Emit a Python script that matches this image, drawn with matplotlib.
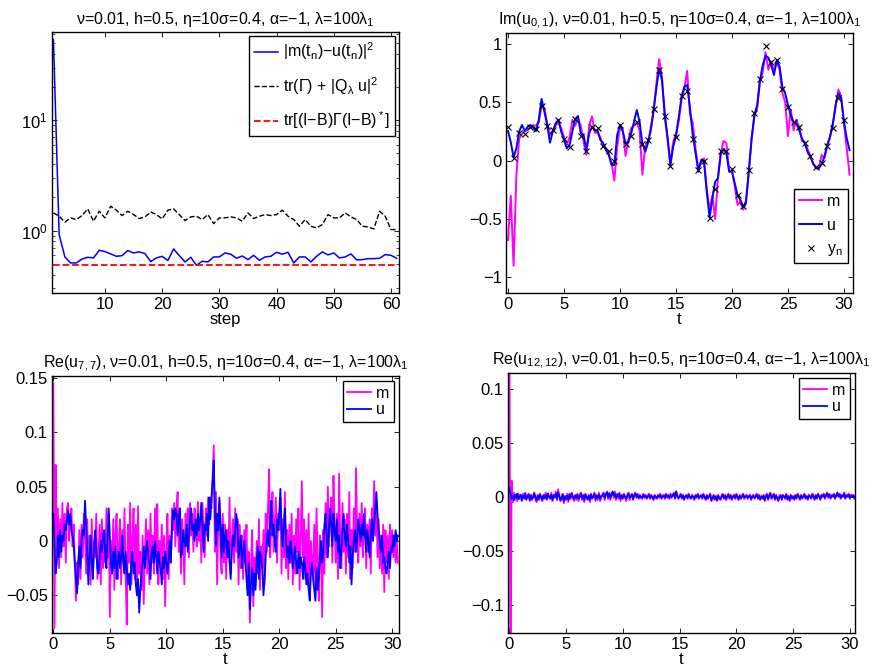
import matplotlib
matplotlib.use('Agg')
import matplotlib.pyplot as plt
import numpy as np

plt.rcParams['font.family'] = ['Liberation Sans', 'DejaVu Sans']
plt.rcParams['font.size'] = 12
plt.rcParams['mathtext.fontset'] = 'custom'
plt.rcParams['mathtext.rm'] = 'Liberation Sans'
plt.rcParams['mathtext.it'] = 'Liberation Sans'
plt.rcParams['mathtext.bf'] = 'Liberation Sans:bold'

#########################################################################
# panel 1 : errors vs step

steps = np.arange(1, 62)
err = [53.8, 0.920, 0.577, 0.509, 0.509, 0.553, 0.573, 0.565, 0.663, 0.645,
       0.615, 0.585, 0.593, 0.659, 0.627, 0.641, 0.619, 0.524, 0.565, 0.585,
       0.535, 0.682, 0.593, 0.520, 0.573, 0.485, 0.527, 0.520, 0.577, 0.577,
       0.627, 0.611, 0.561, 0.589, 0.546, 0.597, 0.538, 0.577, 0.585, 0.636,
       0.611, 0.636, 0.509, 0.577, 0.577, 0.520, 0.585, 0.641, 0.602, 0.627,
       0.565, 0.577, 0.615, 0.542, 0.546, 0.557, 0.557, 0.561, 0.606, 0.597,
       0.561]
trace = [1.446, 1.349, 1.190, 1.303, 1.258, 1.368, 1.572, 1.215, 1.497, 1.303,
         1.662, 1.529, 1.368, 1.497, 1.396, 1.285, 1.330, 1.476, 1.396, 1.276,
         1.529, 1.572, 1.396, 1.232, 1.330, 1.349, 1.258, 1.396, 1.157, 1.303,
         1.303, 1.330, 1.303, 1.215, 1.446, 1.285, 1.349, 1.396, 1.368, 1.396,
         1.529, 1.349, 1.258, 1.095, 1.258, 1.095, 1.057, 1.133, 1.396, 1.303,
         1.303, 1.446, 1.330, 1.258, 1.095, 1.080, 1.035, 1.497, 1.349, 1.021,
         1.021]
bound = 0.485

#########################################################################
# panel 2 : Im(u_{0,1})

t01 = np.arange(0, 30.51, 0.25)
u01 = [0.254, 0.16, 0.026, 0.106, 0.25, 0.306, 0.254, 0.29, 0.306, 0.283,
       0.254, 0.35, 0.53, 0.42, 0.306, 0.154, 0.25, 0.32, 0.35, 0.25,
       0.177, 0.106, 0.134, 0.25, 0.357, 0.383, 0.234, 0.22, 0.09, 0.234,
       0.29, 0.26, 0.26, 0.177, 0.15, 0.09, 0.05, -0.037, -0.037, 0.22,
       0.306, 0.25, 0.15, 0.163, 0.234, 0.334, 0.434, 0.334, 0.15, 0.077,
       0.15, 0.277, 0.434, 0.62, 0.79, 0.69, 0.406, 0.19, -0.037, 0.12,
       0.206, 0.377, 0.55, 0.634, 0.65, 0.45, 0.22, 0.063, -0.094, 0.006,
       -0.009, -0.266, -0.489, -0.323, -0.18, -0.151, 0.063, 0.097, 0.063, -0.094,
       -0.094, -0.194, -0.294, -0.337, -0.394, -0.351, -0.094, 0.19, 0.39, 0.477,
       0.69, 0.82, 0.9, 0.883, 0.82, 0.734, 0.863, 0.806, 0.634, 0.577,
       0.477, 0.39, 0.334, 0.32, 0.263, 0.19, 0.149, 0.077, 0.034, -0.023,
       -0.066, -0.066, -0.031, 0.034, 0.134, 0.206, 0.306, 0.477, 0.577, 0.534,
       0.334, 0.19, 0.09]
m01 = [-0.68, -0.30, -0.90, -0.13, 0.19, 0.23, 0.25, 0.27, 0.28, 0.30,
       0.30, 0.33, 0.47, 0.45, 0.32, 0.22, 0.26, 0.30, 0.33, 0.28,
       0.20, 0.14, 0.20, 0.35, 0.30, 0.36, 0.30, 0.16, 0.05, 0.30,
       0.38, 0.24, 0.24, 0.20, 0.12, 0.11, 0.06, -0.02, -0.17, 0.12,
       0.28, 0.27, 0.04, 0.18, 0.28, 0.30, 0.33, 0.26, -0.12, 0.12,
       0.17, 0.25, 0.42, 0.66, 0.87, 0.72, 0.36, 0.20, -0.03, 0.16,
       0.23, 0.34, 0.52, 0.62, 0.77, 0.40, 0.32, 0.10, -0.07, -0.01,
       0.02, -0.25, -0.42, -0.30, -0.50, -0.14, 0.06, 0.17, 0.15, -0.09,
       -0.08, -0.22, -0.38, -0.35, -0.42, -0.36, -0.10, 0.18, 0.38, 0.45,
       0.68, 0.76, 0.93, 0.78, 0.85, 0.76, 0.85, 0.78, 0.58, 0.50,
       0.21, 0.44, 0.26, 0.35, 0.29, 0.17, 0.16, 0.10, 0.04, -0.03,
       -0.05, -0.07, 0.05, 0.02, 0.12, 0.20, 0.32, 0.46, 0.61, 0.55,
       0.32, 0.10, -0.12]
t_obs = np.arange(0, 30.01, 0.5)
y_obs = [0.29, 0.026, 0.237, 0.23, 0.29, 0.27, 0.47, 0.30, 0.26, 0.35,
         0.19, 0.12, 0.36, 0.21, 0.086, 0.29, 0.28, 0.125, 0.083, 0.0,
         0.31, 0.14, 0.21, 0.33, 0.14, 0.18, 0.44, 0.78, 0.385, -0.046,
         0.2, 0.557, 0.6, 0.19, -0.08, 0.0, -0.494, -0.243, 0.086, 0.086,
         -0.074, -0.29, -0.389, -0.08, 0.406, 0.70, 0.986, 0.843, 0.863, 0.611,
         0.463, 0.334, 0.29, 0.154, 0.04, -0.057, -0.023, 0.129, 0.277, 0.54,
         0.349]

#########################################################################
# panel 3 : Re(u_{7,7}), values in units of 1e-3

t77 = np.arange(0, 30.51, 0.1)
u77_milli = [
    25, -5, -30, -20, 5, -15, 10, -10, 5, 0,
    15, 10, 20, 28, 15, 25, 10, 5, -5, -20,
    -35, -48, -20, -5, -25, 0, 10, 5, 37, 15,
    -10, -40, -15, 5, -20, -35, -5, 10, -10, -25,
    -30, -15, 0, -10, 5, 10, -15, -25, 5, 30,
    5, -20, -30, -10, -25, -5, -35, -20, -10, -25,
    -15, 5, -20, -30, -10, -25, -40, -30, -45, -20,
    -10, -30, -20, -40, -50, -35, -66, -45, -30, -20,
    -5, -25, -10, 0, -15, -20, -35, -10, -5, -20,
    0, -15, -30, -10, -20, -25, -40, -15, -25, -10,
    -20, -30, -15, 0, -20, 10, 28, 20, 30, 25,
    5, 20, 30, -15, -10, 10, 0, -5, 15, -10,
    5, 20, 30, 10, 15, 0, 20, 5, 25, 10,
    20, 35, 15, -10, 15, 10, 25, 0, 40, 20,
    40, 55, 74, 30, -5, 25, 10, 40, 15, -15,
    15, -10, 5, 10, -15, 0, -20, -35, -10, 5,
    -5, 10, 25, 15, -15, -5, 5, -25, -10, 0,
    -20, -35, -50, -20, -63, -40, -25, -50, -30, -45,
    -20, -5, -35, -10, -15, -25, -50, -35, -15, 0,
    10, -5, 20, 37, 5, 15, 0, -10, 20, 10,
    25, 48, 10, -5, 15, 30, 0, -15, -5, -20,
    0, -10, -25, -15, -5, -20, -30, -10, -25, -15,
    -20, -35, -15, -25, -40, -30, -45, -55, -30, -20,
    -35, -45, -55, -25, -45, -35, -15, 0, -20, -10,
    15, 25, 5, -15, 10, 30, 15, -5, 25, 10,
    0, 20, -10, 5, -25, -10, 10, 25, 5, -5,
    15, 0, -20, -5, -40, -15, 0, 10, -10, 5,
    20, 10, 0, 15, 5, 25, 5, -10, 10, 0,
    -15, 5, 20, 0, 15, 30, 45, 25, 10, 0,
    -10, 5, -20, -15, -25, -30, -20, -10, -25, -5,
    -10, 5, -5, 10, 0, 5]
m77_milli = [
    145, -80, 70, -10, 30, -25, 20, -15, 35, -5,
    25, -20, 30, 35, 0, 20, 30, -5, 15, -20,
    -55, -20, -40, 10, -35, 15, -15, 25, 5, -30,
    20, -25, 5, -40, 20, -30, 0, -15, 25, -35,
    -10, 15, -40, 20, -25, 5, -20, 30, -15, 25,
    -70, 0, -30, 20, -45, 10, 25, -35, -5, 20,
    -40, 10, -20, 30, -30, -77, 15, -20, 35, -40,
    0, 30, -35, 15, -50, 32, -30, -10, -45, 5,
    -58, -15, 20, -30, 10, -40, 25, -20, 5, -30,
    30, -10, 34, -40, 0, -25, 15, -35, 5, -60,
    -10, 25, -35, 5, -20, 30, 10, 35, -5, 28,
    45, -10, 15, -30, 20, 0, -40, 25, 10, 30,
    -15, 35, 5, 25, -10, 30, 15, -5, 36, 0,
    20, -20, 35, 10, -15, 30, 5, 40, 15, 40,
    30, 60, 88, -10, 45, -40, 20, 35, -15, -30,
    25, -20, 15, -35, 10, -15, 40, -30, 0, 20,
    -20, 30, -10, 20, -40, 15, -25, 5, -35, 10,
    -20, 15, -45, -10, -75, -20, 10, -60, -15, -40,
    0, -30, 20, -45, -5, -25, 10, -40, 25, -10,
    30, 66, -15, 20, 45, -10, 15, 40, -20, 25,
    10, 40, -30, 20, -15, 45, -25, 10, -35, 15,
    -20, 25, -40, 5, -30, 20, -10, 30, -45, 0,
    55, -15, 20, -35, 10, -40, 25, -50, 0, -20,
    -30, 15, -45, 30, -20, -55, 5, -10, -70, 10,
    -30, 35, -15, 50, -5, 20, 40, -20, 60, 15,
    -20, 25, -35, 62, 0, -25, 35, -10, 20, -30,
    25, -15, 45, -35, 10, -25, 30, -10, 67, 5,
    -20, 25, -5, 35, -15, 10, 30, -25, 15, -10,
    20, -30, 30, 10, 55, 5, 35, -15, 20, -25,
    5, -30, 15, -47, 10, -20, 5, -35, 15, -10,
    10, -15, 5, -20, 0, -20]

#########################################################################
# panel 4 : Re(u_{12,12}), values in units of 1e-3

t1212 = np.arange(0, 30.51, 0.1)
u1212_milli = [
    8, 3, -2, 1, -3, 2, -1, 3, -2, 0,
    2, -3, 1, -1, 3, -2, 0, 2, -3, 1,
    -2, 0, 3, -1, -3, 1, -2, 2, 0, -3,
    1, -1, 2, -2, 3, 0, -1, 2, -3, 1,
    0, 3, -2, 4, 1, -3, -1, 2, -4, 0,
    -2, 1, -3, 2, -1, 3, 0, -2, 1, -1,
    2, -2, 0, 3, -1, 1, -3, 2, 0, -2,
    1, -3, 2, -1, 0, 3, -2, 1, -1, 2,
    -2, 0, 1, 3, -1, 2, 4, 0, 3, -1,
    2, 5, 1, 3, -1, 2, 0, 3, -2, 1,
    -1, 2, 0, -2, 1, 3, -1, 0, 2, -2,
    1, 3, 0, 2, -1, 1, 0, -1, 2, 0,
    1, -1, 0, 2, -1, 1, 0, -2, 1, 0,
    -1, 1, 0, 2, -1, 0, 1, -1, 2, 0,
    1, -1, 2, 0, 1, 3, -1, 5, 1, -1,
    0, 2, -1, 1, -2, 0, 1, -1, 2, 0,
    -1, 1, 0, -2, 1, 0, 2, -1, 0, 1,
    -1, 2, 0, -2, 1, -1, 0, 2, -3, -1,
    1, -2, 0, -3, 1, -1, -2, 0, 2, -1,
    1, -2, 0, 2, -1, 1, -2, 0, 1, -1,
    2, 0, -2, 1, -1, 0, 2, -1, 0, 1,
    -1, 0, 1, -2, 0, 1, -1, 0, 2, -1,
    1, -2, 0, -1, 1, -3, 0, 2, -2, 1,
    3, -1, 0, 2, -2, 1, -1, -3, 0, 1,
    -2, 1, 0, -1, 2, -2, 0, -3, 1, -1,
    0, -2, 1, -1, 2, 0, -2, 1, -1, 0,
    2, -1, 0, -2, 1, 0, -1, 2, 0, -2,
    1, -1, 2, 0, -2, 1, 0, 2, -1, 1,
    3, 0, 2, -1, 1, 0, 2, -1, 1, 4,
    0, 2, -1, 1, 0, 3, -1, 1, 0, 2,
    -1, 1, 0, 1, -1, 0]
m1212_milli = [
    200, -200, 15, -5, 4, -3, 2, -4, 3, -2,
    1, -4, 3, -2, 4, -3, 1, 3, -4, 2,
    -3, 1, 4, -2, -5, 2, -3, 3, -1, -4,
    2, -2, 4, -3, 3, -1, -2, 4, -4, 2,
    -1, 5, -3, 7, 0, -4, -2, 3, -6, 1,
    -3, 3, -5, 3, -2, 4, -1, -4, 2, -3,
    3, -4, 1, 4, -3, 2, -5, 3, -1, -3,
    2, -5, 3, -2, 1, 4, -4, 2, -3, 4,
    -4, 1, 2, 4, -3, 3, 5, -2, 4, -3,
    3, 4, -1, 5, -3, 3, -2, 4, -4, 2,
    -2, 3, -1, -4, 2, 4, -3, 1, 3, -3,
    2, 4, -1, 3, -2, 2, -1, -2, 3, -1,
    2, -2, 1, 3, -2, 2, -1, -3, 2, -1,
    -2, 2, -1, 3, -2, 1, 2, -2, 3, -1,
    2, -2, 3, -1, 2, 4, -2, 5, 0, -2,
    1, 3, -2, 2, -3, 1, 2, -2, 3, -1,
    -2, 2, -1, -3, 2, -1, 3, -2, 1, 2,
    -2, 3, -1, -3, 2, -2, 1, 3, -4, -2,
    2, -3, 1, -4, 2, -2, -3, 1, 3, -2,
    2, -3, 1, 3, -2, 2, -3, 1, 2, -2,
    3, -1, -3, 2, -2, 1, 3, -2, 1, 2,
    -2, 1, 2, -3, 1, 2, -2, 1, 3, -2,
    2, -3, 1, -2, 2, -4, 1, 3, -3, 2,
    4, -2, 1, 3, -3, 2, -2, -4, 1, 2,
    -3, 2, 1, -2, 3, -3, 1, -4, 2, -2,
    1, -3, 2, -2, 3, 1, -3, 2, -2, 1,
    3, -2, 1, -3, 2, 1, -2, 3, 1, -3,
    2, -2, 3, 1, -3, 2, 1, 3, -2, 2,
    4, -1, 3, -2, 2, 1, 3, -2, 2, 3,
    1, 3, -2, 2, 1, 4, -2, 2, 1, 3,
    -2, 2, 1, 2, -2, 1]

#########################################################################

MAG = (1, 0, 1)
BLUE = (0, 0, 1)
TITLE_FS = 11.5
params = r'$\nu$=0.01, h=0.5, $\eta$=10$\sigma$=0.4, $\alpha$=$-$1, $\lambda$=100$\lambda_1$'

def matlab_axes(ax):
    ax.tick_params(direction='in', top=True, right=True, length=3.5, width=0.6,
                   labelsize=12, pad=3)
    ax.tick_params(which='minor', direction='in', top=True, right=True,
                   length=2, width=0.5)
    for s in ax.spines.values():
        s.set_linewidth(1.0)

def legend(ax, **kw):
    opts = dict(loc='upper right', fancybox=False, edgecolor='black',
                framealpha=1, borderaxespad=0.3, fontsize=11.5,
                handlelength=1.5, handletextpad=0.3, borderpad=0.3)
    opts.update(kw)
    lg = ax.legend(**opts)
    lg.get_frame().set_linewidth(1.0)
    return lg

fig = plt.figure(figsize=(8.74, 6.70), dpi=100)

# panel 1
ax1 = fig.add_axes([0.0595, 0.5627, 0.397, 0.3896])
ax1.semilogy(steps, err, color=BLUE, lw=1.1, label=r'|m(t$_n$)$-$u(t$_n$)|$^2$')
ax1.semilogy(steps, trace, 'k--', lw=1.0, label=r'tr($\Gamma$) + |Q$_\lambda$ u|$^2$')
ax1.semilogy(steps, [bound] * len(steps), '--', color='red', lw=1.3,
             label=r'tr[(I$-$B)$\Gamma$(I$-$B)$^*$]')
ax1.set_xlim(0.75, 61.4)
ax1.set_ylim(0.272, 63)
ax1.set_xticks([10, 20, 30, 40, 50, 60])
ax1.set_xlabel('step', labelpad=0)
ax1.set_title(params, fontsize=TITLE_FS, pad=6)
matlab_axes(ax1)
legend(ax1, labelspacing=0.8, borderaxespad=0.25)

# panel 2
ax2 = fig.add_axes([0.5789, 0.5627, 0.397, 0.388])
ax2.plot(t01, m01, color=MAG, lw=1.4, label='m')
ax2.plot(t01, u01, color=BLUE, lw=1.4, label='u')
ax2.plot(t_obs, y_obs, 'kx', ms=5, mew=0.8, label=r'y$_n$')
ax2.set_xlim(-0.18, 30.8)
ax2.set_ylim(-1.134, 1.094)
ax2.set_xticks(range(0, 31, 5))
ax2.set_yticks([-1, -0.5, 0, 0.5, 1])
ax2.set_yticklabels(['\u22121', '\u22120.5', '0', '0.5', '1'])
ax2.set_xlabel('t', labelpad=0)
ax2.set_title(r'Im(u$_{0,1}$), ' + params, fontsize=TITLE_FS, pad=6)
matlab_axes(ax2)
legend(ax2, bbox_to_anchor=(0.985, 0.40), borderaxespad=0, labelspacing=0.55)

# panel 3
ax3 = fig.add_axes([0.0595, 0.0552, 0.397, 0.3836])
ax3.plot(t77, np.array(m77_milli) / 1000, color=MAG, lw=1.3, label='m')
ax3.plot(t77, np.array(u77_milli) / 1000, color=BLUE, lw=1.3, label='u')
ax3.set_xlim(-0.12, 30.6)
ax3.set_ylim(-0.0847, 0.1518)
ax3.set_xticks(range(0, 31, 5))
ax3.set_yticks([-0.05, 0, 0.05, 0.1, 0.15])
ax3.set_yticklabels(['\u22120.05', '0', '0.05', '0.1', '0.15'])
ax3.set_xlabel('t', labelpad=0)
ax3.set_title(r'Re(u$_{7,7}$), ' + params, fontsize=TITLE_FS, pad=6)
matlab_axes(ax3)
legend(ax3, labelspacing=0.1)

# panel 4
ax4 = fig.add_axes([0.5812, 0.0552, 0.397, 0.388])
ax4.plot(t1212, np.array(m1212_milli) / 1000, color=MAG, lw=1.3, label='m')
ax4.plot(t1212, np.array(u1212_milli) / 1000, color=BLUE, lw=1.3, label='u')
ax4.set_xlim(-0.12, 30.45)
ax4.set_ylim(-0.126, 0.1145)
ax4.set_xticks(range(0, 31, 5))
ax4.set_yticks([-0.1, -0.05, 0, 0.05, 0.1])
ax4.set_yticklabels(['\u22120.1', '\u22120.05', '0', '0.05', '0.1'])
ax4.set_xlabel('t', labelpad=0)
ax4.set_title(r'Re(u$_{12,12}$), ' + params, fontsize=TITLE_FS, pad=6)
matlab_axes(ax4)
legend(ax4, labelspacing=0.1)

fig.savefig('out.png', dpi=100)
